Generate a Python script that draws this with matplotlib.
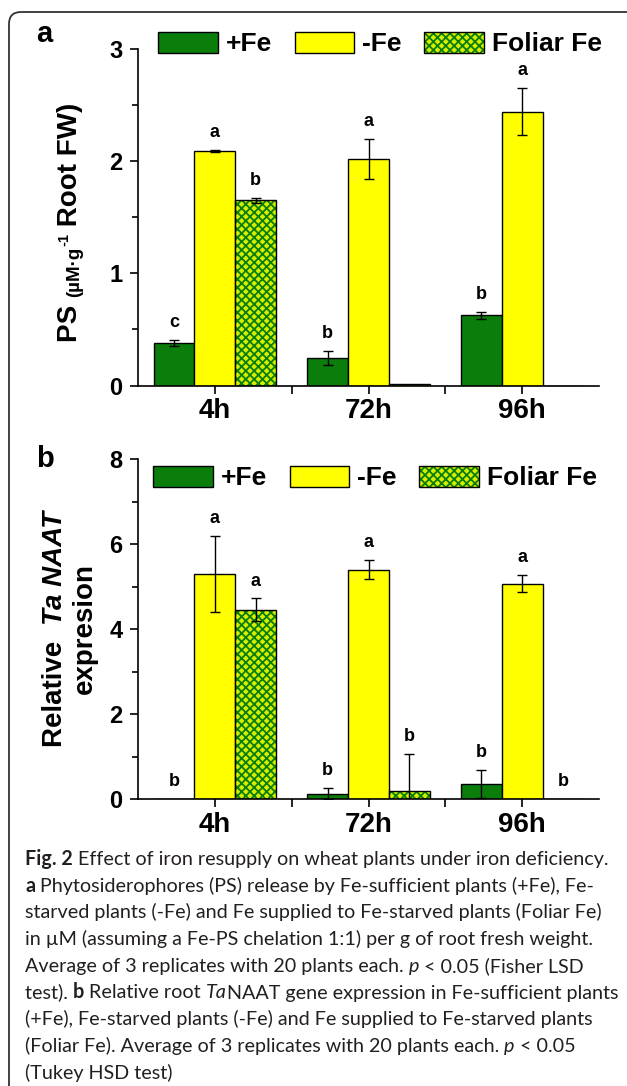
import matplotlib
matplotlib.use('Agg')
import matplotlib.pyplot as plt
from matplotlib.patches import Patch, FancyBboxPatch
from matplotlib.transforms import IdentityTransform
from matplotlib.ticker import MultipleLocator
from matplotlib.legend_handler import HandlerTuple

plt.rcParams['font.family'] = ['Liberation Sans', 'DejaVu Sans']
plt.rcParams['font.weight'] = 'bold'
plt.rcParams['hatch.linewidth'] = 1.3

# data
times = ['4h', '72h', '96h']
groups = ['+Fe', '-Fe', 'Foliar Fe']

ps_plus = [0.38, 0.245, 0.625]
ps_minus = [2.09, 2.02, 2.44]
ps_foliar = [1.65, 0.01, 0.0]
ps_plus_err = [0.03, 0.06, 0.03]
ps_minus_err = [0.008, 0.18, 0.21]
ps_foliar_err = [0.02, 0.0, 0.0]
ps_letters = [['c', 'b', 'b'], ['a', 'a', 'a'], ['b', '', '']]

naat_plus = [0.0, 0.125, 0.36]
naat_minus = [5.30, 5.40, 5.07]
naat_foliar = [4.45, 0.19, 0.0]
naat_plus_err = [0.0, 0.13, 0.33]
naat_minus_err = [0.9, 0.23, 0.2]
naat_foliar_err = [0.27, 0.87, 0.0]
naat_letters = [['b', 'b', 'b'], ['a', 'a', 'a'], ['a', 'b', 'b']]

GREEN = '#0b7d0b'
YELLOW = '#ffff00'
HATCH_BG = '#d6ef00'
W, H = 627, 1086

fig = plt.figure(figsize=(W / 100, H / 100), dpi=100)
r = fig.canvas.get_renderer()


def px_axes(left, right, top, bottom):
    return fig.add_axes([left / W, 1 - bottom / H, (right - left) / W, (bottom - top) / H])


def draw_panel(ax, plus, minus, foliar, errs, letters, ymax, major, minor):
    x = [1, 2, 3]
    bw = 0.265
    vals = [plus, minus, foliar]
    for i, v in enumerate(vals):
        xs = [xi + (i - 1) * bw for xi in x]
        if i == 0:
            ax.bar(xs, v, bw, color=GREEN, edgecolor='black', lw=1.0, zorder=2)
        elif i == 1:
            ax.bar(xs, v, bw, color=YELLOW, edgecolor='black', lw=1.0, zorder=2)
        else:
            ax.bar(xs, v, bw, color=HATCH_BG, edgecolor=GREEN, hatch='xxxx', lw=0, zorder=2)
            ax.bar(xs, v, bw, fill=False, edgecolor='black', lw=1.0, zorder=3)
        for j in range(3):
            if errs[i][j] > 0:
                ax.errorbar(xs[j], v[j], yerr=errs[i][j], fmt='none', ecolor='black',
                            elinewidth=1.0, capsize=3.6, capthick=1.0, zorder=4)
            if letters[i][j]:
                ax.annotate(letters[i][j], (xs[j], v[j] + errs[i][j]), xytext=(0, 12.5),
                            textcoords='offset points', ha='center', va='center',
                            fontsize=13, fontweight='bold')
    ax.set_xlim(0.5, 3.5)
    ax.set_ylim(0, ymax)
    ax.set_xticks(x)
    ax.set_xticklabels(times)
    ax.set_xticks([1.5, 2.5], minor=True)
    ax.yaxis.set_major_locator(MultipleLocator(major))
    ax.yaxis.set_minor_locator(MultipleLocator(minor))
    for s in ['top', 'right']:
        ax.spines[s].set_visible(False)
    for s in ['left', 'bottom']:
        ax.spines[s].set_linewidth(1.2)
    ax.tick_params(axis='x', which='major', length=6, width=1.2, labelsize=20, pad=3)
    ax.tick_params(axis='x', which='minor', length=6, width=1.2)
    ax.tick_params(axis='y', which='major', length=6, width=1.2, labelsize=17, pad=5)
    ax.tick_params(axis='y', which='minor', length=4, width=1.2)
    for t in ax.get_xticklabels() + ax.get_yticklabels():
        t.set_fontweight('bold')
    ax.patch.set_alpha(0)


def add_legend(ax, left_px, cy_px):
    handles = [Patch(facecolor=GREEN, edgecolor='black', lw=1.0),
               Patch(facecolor=YELLOW, edgecolor='black', lw=1.0),
               (Patch(facecolor=HATCH_BG, edgecolor=GREEN, hatch='xxxx', lw=0),
                Patch(fill=False, edgecolor='black', lw=1.0))]
    ax.legend(handles, groups, ncol=3, loc='center left',
              bbox_to_anchor=(left_px / W, 1 - cy_px / H), bbox_transform=fig.transFigure,
              frameon=False, prop={'size': 19, 'weight': 'bold'},
              handlelength=2.27, handleheight=0.87, handletextpad=0.3,
              columnspacing=0.85, borderpad=0, borderaxespad=0,
              handler_map={tuple: HandlerTuple(ndivide=1, pad=0)})


def text_width(s, props):
    t = fig.text(0, 0, '|' + s + '|', **props)
    t0 = fig.text(0, 0, '||', **props)
    w = t.get_window_extent(r).width - t0.get_window_extent(r).width
    t.remove()
    t0.remove()
    return w


def put_runs(x, y, runs, rot=0, color='black'):
    # runs: (text, props, shift) drawn one after another; x,y in pixels from top-left
    for s, props, shift in runs:
        if rot:
            fig.text(x + shift, H - y, s, transform=IdentityTransform(), rotation=90,
                     rotation_mode='anchor', ha='left', va='baseline', color=color, **props)
            y -= text_width(s, props)
        else:
            fig.text(x, H - y - shift, s, transform=IdentityTransform(),
                     ha='left', va='baseline', color=color, **props)
            x += text_width(s, props)


def runs_length(runs):
    return sum(text_width(s, p) for s, p, _ in runs)


# frame around the figure
fig.patches.append(FancyBboxPatch((9, -30), 700, H - 12 + 30,
                                  boxstyle='round,pad=0,rounding_size=12',
                                  transform=IdentityTransform(), fill=False,
                                  ec='#333333', lw=1.3))

ax1 = px_axes(138, 599, 49, 385.5)
draw_panel(ax1, ps_plus, ps_minus, ps_foliar,
           [ps_plus_err, ps_minus_err, ps_foliar_err], ps_letters, 3, 1, 0.5)
add_legend(ax1, 158, 44)

ax2 = px_axes(138, 599, 459, 799)
draw_panel(ax2, naat_plus, naat_minus, naat_foliar,
           [naat_plus_err, naat_minus_err, naat_foliar_err], naat_letters, 8, 2, 1)
add_legend(ax2, 153, 478)

fig.text(36, H - 42, 'a', transform=IdentityTransform(), fontsize=21, fontweight='bold')
fig.text(36, H - 467, 'b', transform=IdentityTransform(), fontsize=21, fontweight='bold')

# y labels
big = {'fontsize': 20, 'fontweight': 'bold'}
small = {'fontsize': 13.5, 'fontweight': 'bold'}
sup = {'fontsize': 10.5, 'fontweight': 'bold'}
ylab_a = [('PS ', big, 0), ('(\u00b5M\u00b7g', small, 2), ('-1', sup, -9), (' Root FW)', big, 0)]
la = runs_length(ylab_a)
put_runs(77, 222 + la / 2, ylab_a, rot=90)

bi = {'fontsize': 20, 'fontweight': 'bold', 'fontstyle': 'italic'}
ylab_b = [('Relative  ', big, 0), ('Ta NAAT', bi, 0)]
lb = runs_length(ylab_b)
put_runs(62, 629 + lb / 2, ylab_b, rot=90)
fig.text(92, H - 629, 'expresion', transform=IdentityTransform(), rotation=90,
         rotation_mode='anchor', ha='center', va='baseline', **big)

# caption
cf = 'Lato'
cs = 14.2
reg = {'fontsize': cs, 'fontweight': 'normal', 'family': cf}
bold = {'fontsize': cs, 'fontweight': 'bold', 'family': cf}
ital = {'fontsize': cs, 'fontweight': 'normal', 'fontstyle': 'italic', 'family': cf}
caption = [
    [('Fig. 2', bold), (' Effect of iron resupply on wheat plants under iron deficiency.', reg)],
    [('a', bold), (' Phytosiderophores (PS) release by Fe-sufficient plants (+Fe), Fe-', reg)],
    [('starved plants (-Fe) and Fe supplied to Fe-starved plants (Foliar Fe)', reg)],
    [('in \u00b5M (assuming a Fe-PS chelation 1:1) per g of root fresh weight.', reg)],
    [('Average of 3 replicates with 20 plants each. ', reg), ('p', ital), (' < 0.05 (Fisher LSD', reg)],
    [('test). ', reg), ('b', bold), (' Relative root ', reg), ('Ta', ital), ('NAAT gene expression in Fe-sufficient plants', reg)],
    [('(+Fe), Fe-starved plants (-Fe) and Fe supplied to Fe-starved plants', reg)],
    [('(Foliar Fe). Average of 3 replicates with 20 plants each. ', reg), ('p', ital), (' < 0.05', reg)],
    [('(Tukey HSD test)', reg)],
]
for k, line in enumerate(caption):
    put_runs(25, 865 + k * 26.7, [(s, p, 0) for s, p in line], color='#231f20')

fig.savefig('out.png', dpi=100)
